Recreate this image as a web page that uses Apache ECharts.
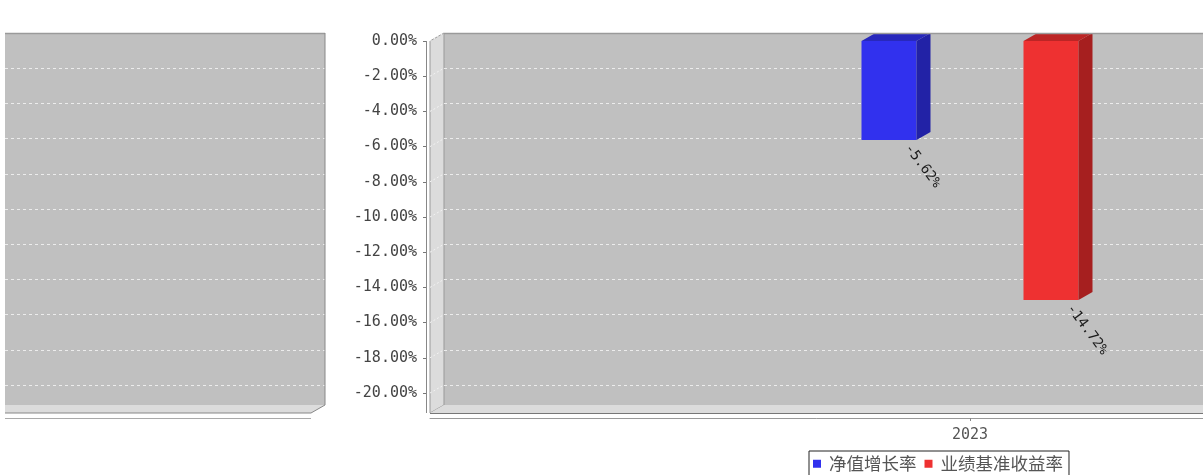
<!DOCTYPE html>
<html>
<head>
<meta charset="utf-8">
<script src="https://cdn.jsdelivr.net/npm/echarts@6/dist/echarts.min.js"></script>
<style>
html,body{margin:0;padding:0;background:#fff;}
#chart{width:1203px;height:475px;}
</style>
</head>
<body>
<div id="chart"></div>
<script>
// ---- data ----
const categories = ['2023'];
const seriesNames = ['净值增长率', '业绩基准收益率'];
const navGrowth = [-5.62];
const benchmarkReturn = [-14.72];
const yTicks = [0, -2, -4, -6, -8, -10, -12, -14, -16, -18, -20];

// ---- geometry / style ----
const DX = 14, DY = 8, BAR_W = 55;
const FRONT = { left: 430, top: 41, width: 1080, height: 352 };
const AX_FONT = 'DejaVu Sans Mono';

function bar3D(offsetPx, front, side, topc) {
  return function (params, api) {
    const val = api.value(1);
    const p0 = api.coord([api.value(0), 0]);
    const p1 = api.coord([api.value(0), val]);
    const cx = p0[0] + offsetPx;
    const x0 = cx - BAR_W / 2, x1 = cx + BAR_W / 2;
    const y0 = p0[1], y1 = p1[1];
    return {
      type: 'group',
      children: [
        { type: 'polygon', shape: { points: [[x0, y0], [x1, y0], [x1, y1], [x0, y1]] }, style: { fill: front } },
        { type: 'polygon', shape: { points: [[x1, y0], [x1 + DX, y0 - DY], [x1 + DX, y1 - DY], [x1, y1]] }, style: { fill: side } },
        { type: 'polygon', shape: { points: [[x0, y0], [x0 + DX, y0 - DY], [x1 + DX, y0 - DY], [x1, y0]] }, style: { fill: topc } },
        { type: 'text', x: x1 - 9, y: y1 + 6, rotation: -0.93,
          style: { text: val.toFixed(2) + '%', fill: '#1a1a1a', font: '14px "DejaVu Sans Mono"', align: 'left', verticalAlign: 'middle' } }
      ]
    };
  };
}

function wallLines(params, api) {
  const p = api.coord([0, api.value(1)]);
  const x = params.coordSys.x;
  return {
    type: 'line',
    shape: { x1: x, y1: p[1], x2: x + DX, y2: p[1] - DY },
    style: { stroke: '#f2f2f2', lineWidth: 1, lineDash: [2, 2] }
  };
}

const hiddenY = (gi) => ({
  type: 'value', gridIndex: gi, min: -20, max: 0, interval: 2,
  axisLine: { show: false }, axisTick: { show: false }, axisLabel: { show: false },
  splitLine: { show: true, lineStyle: { color: '#ececec', type: [3, 3], width: 1 } }
});
const hiddenX = (gi) => ({ type: 'category', gridIndex: gi, data: categories, show: false });

const option = {
  animation: false,
  backgroundColor: '#ffffff',
  grid: [
    { left: FRONT.left, top: FRONT.top, width: FRONT.width, height: FRONT.height, outerBoundsMode: 'none', containLabel: false },
    { left: FRONT.left + DX, top: FRONT.top - DY, width: FRONT.width, height: FRONT.height, outerBoundsMode: 'none', containLabel: false },
    { left: 5, top: 33, width: 320, height: 352, outerBoundsMode: 'none', containLabel: false }
  ],
  xAxis: [
    { type: 'category', gridIndex: 0, data: categories, position: 'bottom', offset: 25,
      axisLine: { show: true, onZero: false, lineStyle: { color: '#999', width: 1 } },
      axisTick: { show: true, alignWithLabel: true, length: 3, lineStyle: { color: '#888' } },
      axisLabel: { color: '#555', fontSize: 15, fontFamily: AX_FONT, margin: 10 },
      splitLine: { show: false } },
    hiddenX(1),
    hiddenX(2)
  ],
  yAxis: [
    { type: 'value', gridIndex: 0, min: -20, max: 0, interval: 2, offset: 4,
      axisLine: { show: false },
      axisTick: { show: true, length: 3, lineStyle: { color: '#777' } },
      axisLabel: { color: '#444', fontSize: 15, fontFamily: AX_FONT, margin: 9,
        formatter: (v) => v.toFixed(2) + '%' },
      splitLine: { show: false } },
    hiddenY(1),
    hiddenY(2)
  ],
  legend: {
    data: seriesNames,
    left: 809, top: 451,
    icon: 'rect', itemWidth: 8, itemHeight: 8, itemGap: 8,
    padding: [4, 6, 6, 4],
    borderColor: '#222', borderWidth: 1,
    textStyle: { fontSize: 17.5, color: '#555', fontFamily: 'Noto Sans CJK SC', padding: [0, 0, 0, 3] }
  },
  graphic: [
    // left panel (partial neighbouring chart)
    { type: 'rect', z: -10, shape: { x: 5, y: 33, width: 320, height: 372 }, style: { fill: '#c0c0c0' } },
    { type: 'polygon', z: -9, shape: { points: [[5, 405], [325, 405], [311, 413], [5, 413]] }, style: { fill: '#dcdcdc' } },
    { type: 'line', z: 10, shape: { x1: 5, y1: 33.5, x2: 325, y2: 33.5 }, style: { stroke: '#9a9a9a', lineWidth: 1.5 } },
    { type: 'polyline', z: 10, shape: { points: [[325, 33], [325, 405], [311, 413], [5, 413]] }, style: { stroke: '#888', lineWidth: 1, fill: null } },
    { type: 'line', z: 10, shape: { x1: 5, y1: 418.5, x2: 311, y2: 418.5 }, style: { stroke: '#aaa', lineWidth: 1 } },
    // right panel background
    { type: 'rect', z: -10, shape: { x: 444, y: 33, width: 800, height: 372 }, style: { fill: '#c0c0c0' } },
    { type: 'polygon', z: -9, shape: { points: [[430, 41], [444, 33], [444, 405], [430, 413]] }, style: { fill: '#dcdcdc', stroke: '#999', lineWidth: 1 } },
    { type: 'polygon', z: -9, shape: { points: [[430, 413], [444, 405], [1210, 405], [1210, 413]] }, style: { fill: '#dcdcdc' } },
    { type: 'line', z: 10, shape: { x1: 444, y1: 33.5, x2: 1210, y2: 33.5 }, style: { stroke: '#9a9a9a', lineWidth: 1.5 } },
    { type: 'line', z: 10, shape: { x1: 430, y1: 413.5, x2: 1210, y2: 413.5 }, style: { stroke: '#777', lineWidth: 1 } },
    { type: 'line', z: 10, shape: { x1: 426.5, y1: 41, x2: 426.5, y2: 413 }, style: { stroke: '#888', lineWidth: 1 } }
  ],
  series: [
    { type: 'custom', name: 'wall', xAxisIndex: 0, yAxisIndex: 0, silent: true, z: 1,
      renderItem: wallLines, data: yTicks.map((v) => [0, v]) },
    { type: 'custom', name: seriesNames[0], xAxisIndex: 0, yAxisIndex: 0, z: 5,
      itemStyle: { color: '#3131ee' },
      renderItem: bar3D(-81, '#3131ee', '#2222a6', '#2828bc'),
      data: navGrowth.map((v, i) => [i, v]) },
    { type: 'custom', name: seriesNames[1], xAxisIndex: 0, yAxisIndex: 0, z: 5,
      itemStyle: { color: '#ee3131' },
      renderItem: bar3D(81, '#ee3131', '#a61f1f', '#bc2525'),
      data: benchmarkReturn.map((v, i) => [i, v]) }
  ]
};

const chart = echarts.init(document.getElementById('chart'));
chart.setOption(option);
</script>
</body>
</html>
